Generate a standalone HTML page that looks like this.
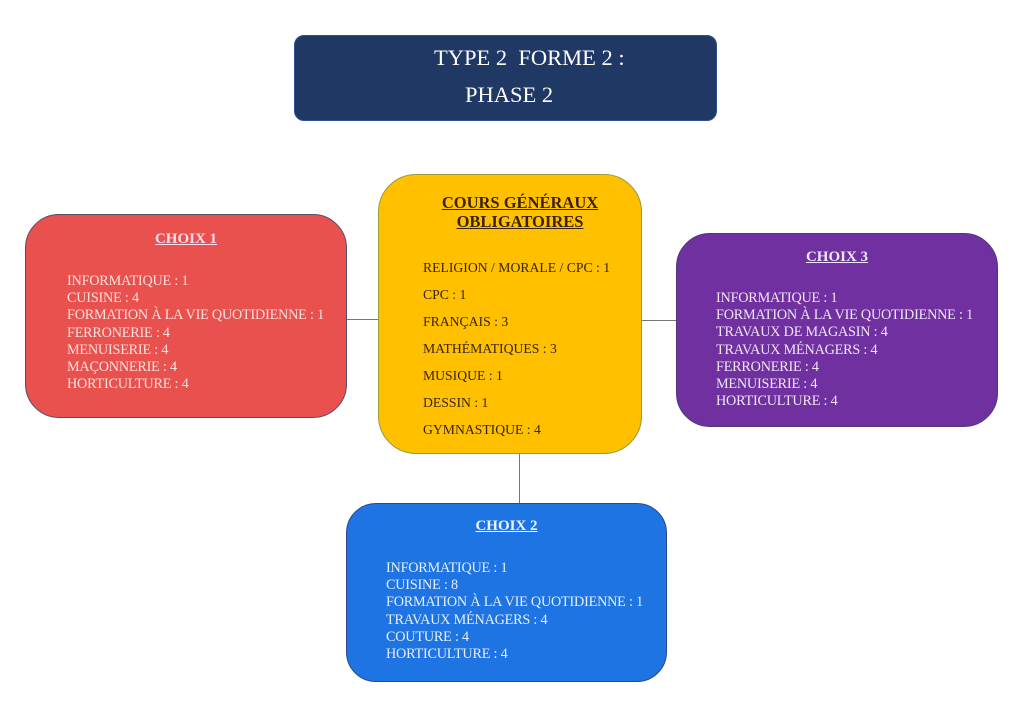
<!DOCTYPE html>
<html><head><meta charset="utf-8"><style>
body{margin:0;width:1024px;height:724px;background:#fff;position:relative;overflow:hidden;font-family:"Liberation Serif",serif;}
.b{position:absolute;box-sizing:border-box;}
.t{position:absolute;white-space:nowrap;text-transform:uppercase;}
.ln{position:absolute;background:#777;}
.h{font-weight:bold;text-decoration:underline;font-size:15px;}
.body{font-size:14.2px;line-height:17.2px;letter-spacing:-0.2px;}
</style></head><body>
<div class="b" style="left:294px;top:35px;width:423px;height:86px;background:#203864;border:1px solid #2f4f8f;border-radius:10px;"></div>
<div class="t" style="left:434px;top:45px;color:#fff;font-size:22.5px;">TYPE 2&nbsp; FORME 2 :</div>
<div class="t" style="left:465px;top:82px;color:#fff;font-size:22.5px;">PHASE 2</div>

<div class="ln" style="left:346px;top:319px;width:33px;height:1px;"></div>
<div class="ln" style="left:641px;top:320px;width:36px;height:1px;"></div>
<div class="ln" style="left:519px;top:453px;width:1px;height:51px;"></div>

<div class="b" style="left:378px;top:174px;width:264px;height:280px;background:#ffc000;border:1px solid #9a9a3a;border-radius:38px;"></div>
<div class="t h" style="left:388px;width:264px;text-align:center;top:193px;color:#3a2400;line-height:19px;font-size:16.5px;">COURS GÉNÉRAUX<br>OBLIGATOIRES</div>
<div class="t" style="left:423px;top:254px;color:#3a2400;font-size:13.7px;line-height:27px;">RELIGION / MORALE / CPC : 1<br>CPC : 1<br>FRANÇAIS : 3<br>MATHÉMATIQUES : 3<br>MUSIQUE : 1<br>DESSIN : 1<br>GYMNASTIQUE : 4</div>

<div class="b" style="left:25px;top:214px;width:322px;height:204px;background:#e8514d;border:1px solid #5a4a6a;border-radius:34px;"></div>
<div class="t h" style="left:25px;width:322px;text-align:center;top:231px;color:#fde;">CHOIX 1</div>
<div class="t body" style="left:67px;top:273px;color:#fde0dc;">INFORMATIQUE : 1<br>CUISINE : 4<br>FORMATION À LA VIE QUOTIDIENNE : 1<br>FERRONERIE : 4<br>MENUISERIE : 4<br>MAÇONNERIE : 4<br>HORTICULTURE : 4</div>

<div class="b" style="left:676px;top:233px;width:322px;height:194px;background:#7030a0;border:1px solid #4a3a7a;border-radius:34px;"></div>
<div class="t h" style="left:676px;width:322px;text-align:center;top:249px;color:#f0e8ff;">CHOIX 3</div>
<div class="t body" style="left:716px;top:290px;color:#efe6f7;">INFORMATIQUE : 1<br>FORMATION À LA VIE QUOTIDIENNE : 1<br>TRAVAUX DE MAGASIN : 4<br>TRAVAUX MÉNAGERS : 4<br>FERRONERIE : 4<br>MENUISERIE : 4<br>HORTICULTURE : 4</div>

<div class="b" style="left:346px;top:503px;width:321px;height:179px;background:#1e74e2;border:1px solid #2a4a8a;border-radius:30px;"></div>
<div class="t h" style="left:346px;width:321px;text-align:center;top:518px;color:#eef4ff;">CHOIX 2</div>
<div class="t body" style="left:386px;top:560px;color:#e6efff;">INFORMATIQUE : 1<br>CUISINE : 8<br>FORMATION À LA VIE QUOTIDIENNE : 1<br>TRAVAUX MÉNAGERS : 4<br>COUTURE : 4<br>HORTICULTURE : 4</div>
</body></html>
